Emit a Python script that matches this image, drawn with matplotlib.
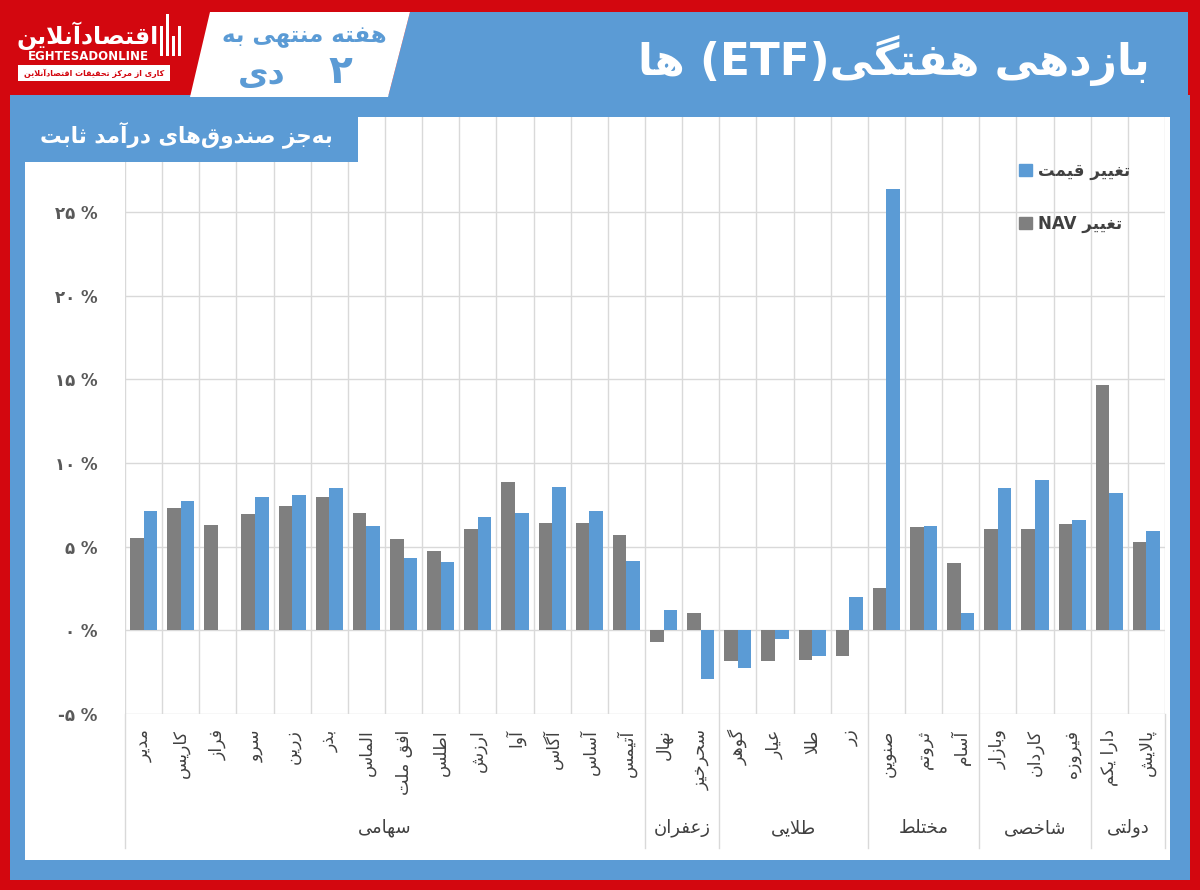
import re

import matplotlib

matplotlib.use("Agg")
import matplotlib.pyplot as plt
import matplotlib.transforms as mtransforms
import numpy as np
from matplotlib.patches import Patch, Polygon, Rectangle

plt.rcParams["font.family"] = ["DejaVu Sans"]

# ---------------------------------------------------------------------------
# Data
# ---------------------------------------------------------------------------

groups = ["سهامی", "زعفران", "طلایی", "مختلط", "شاخصی", "دولتی"]
group_sizes = [14, 2, 4, 3, 3, 2]
funds = [
    "مدیر", "کاریس", "فراز", "سرو", "زرین", "بذر", "الماس", "افق ملت", "اطلس",
    "ارزش", "آوا", "آگاس", "آساس", "آتیمس",
    "نهال", "سحرخیز",
    "گوهر", "عیار", "طلا", "زر",
    "صنوین", "ثروتم", "آسام",
    "وبازار", "کاردان", "فیروزه",
    "دارا یکم", "پالایش",
]
nav_change = [
    5.5, 7.3, 6.3, 6.96, 7.44, 7.96, 7.04, 5.44, 4.76, 6.04, 8.84, 6.44, 6.44, 5.7,
    -0.72, 1.06,
    -1.86, -1.86, -1.8, -1.52,
    2.54, 6.16, 4.0,
    6.04, 6.04, 6.36,
    14.68, 5.3,
]
price_change = [
    7.16, 7.7, np.nan, 7.96, 8.1, 8.5, 6.22, 4.3, 4.06, 6.76, 7.04, 8.58, 7.16, 4.14,
    1.2, -2.92,
    -2.26, -0.54, -1.52, 2.02,
    26.4, 6.24, 1.06,
    8.5, 8.98, 6.58,
    8.18, 5.96,
]
ytick_values = [-5, 0, 5, 10, 15, 20, 25]
ytick_labels = ["-۵ %", "۰ %", "۵ %", "۱۰ %", "۱۵ %", "۲۰ %", "۲۵ %"]

title = "بازدهی هفتگی(ETF) ها"
subtitle = "به‌جز صندوق‌های درآمد ثابت"
week_label = "هفته منتهی به"
week_day = "۲"
week_month = "دی"
legend_labels = ["تغییر قیمت", "تغییر NAV"]
logo_name = "اقتصادآنلاین"
logo_latin = "EGHTESADONLINE"
logo_tag = "کاری از مرکز تحقیقات اقتصادآنلاین"

# ---------------------------------------------------------------------------
# Persian shaping (matplotlib has no bidi / joining support)
# ---------------------------------------------------------------------------

ZWNJ = "\u200c"
FORMS = {
    "ا": "\ufe8d\ufe8e", "آ": "\ufe81\ufe82", "د": "\ufea9\ufeaa", "ذ": "\ufeab\ufeac",
    "ر": "\ufead\ufeae", "ز": "\ufeaf\ufeb0", "ژ": "\ufb8a\ufb8b", "و": "\ufeed\ufeee",
    "ب": "\ufe8f\ufe90\ufe91\ufe92", "پ": "\ufb56\ufb57\ufb58\ufb59",
    "ت": "\ufe95\ufe96\ufe97\ufe98", "ث": "\ufe99\ufe9a\ufe9b\ufe9c",
    "ج": "\ufe9d\ufe9e\ufe9f\ufea0", "چ": "\ufb7a\ufb7b\ufb7c\ufb7d",
    "ح": "\ufea1\ufea2\ufea3\ufea4", "خ": "\ufea5\ufea6\ufea7\ufea8",
    "س": "\ufeb1\ufeb2\ufeb3\ufeb4", "ش": "\ufeb5\ufeb6\ufeb7\ufeb8",
    "ص": "\ufeb9\ufeba\ufebb\ufebc", "ض": "\ufebd\ufebe\ufebf\ufec0",
    "ط": "\ufec1\ufec2\ufec3\ufec4", "ظ": "\ufec5\ufec6\ufec7\ufec8",
    "ع": "\ufec9\ufeca\ufecb\ufecc", "غ": "\ufecd\ufece\ufecf\ufed0",
    "ف": "\ufed1\ufed2\ufed3\ufed4", "ق": "\ufed5\ufed6\ufed7\ufed8",
    "ک": "\ufb8e\ufb8f\ufb90\ufb91", "گ": "\ufb92\ufb93\ufb94\ufb95",
    "ل": "\ufedd\ufede\ufedf\ufee0", "م": "\ufee1\ufee2\ufee3\ufee4",
    "ن": "\ufee5\ufee6\ufee7\ufee8", "ه": "\ufee9\ufeea\ufeeb\ufeec",
    "ی": "\ufbfc\ufbfd\ufbfe\ufbff",
}


def _dual(c):
    return c in FORMS and len(FORMS[c]) == 4


def shape(text):
    out, i, n = [], 0, len(text)
    while i < n:
        c = text[i]
        if c not in FORMS:
            if c != ZWNJ:
                out.append(c)
            i += 1
            continue
        link_prev = i > 0 and _dual(text[i - 1])
        if c == "ل" and i + 1 < n and text[i + 1] in "اآ":
            lig = "\ufefb\ufefc" if text[i + 1] == "ا" else "\ufef5\ufef6"
            out.append(lig[1] if link_prev else lig[0])
            i += 2
            continue
        link_next = _dual(c) and i + 1 < n and text[i + 1] in FORMS
        f = FORMS[c]
        if link_prev and link_next:
            out.append(f[3])
        elif link_prev:
            out.append(f[1])
        elif link_next:
            out.append(f[2])
        else:
            out.append(f[0])
        i += 1
    return "".join(out)


def rtl(text):
    runs = re.findall(r"[A-Za-z0-9()]+|[^A-Za-z0-9()]+", text)
    vis = []
    for run in reversed(runs):
        if re.fullmatch(r"[A-Za-z0-9()]+", run):
            vis.append(run)
        else:
            vis.append(shape(run)[::-1])
    return "".join(vis)


# ---------------------------------------------------------------------------
# Layout (pixels, y from top)
# ---------------------------------------------------------------------------

W, H = 1200, 890
RED = "#d3070f"
BLUE = "#5b9bd5"
GRAY = "#7f7f7f"
TEXT = "#404040"
PLOT_L, PLOT_R, PLOT_T, PLOT_B = 125, 1165, 117, 714

fig = plt.figure(figsize=(W / 100, H / 100), dpi=100)
fig.patch.set_facecolor(RED)

bg = fig.add_axes([0, 0, 1, 1], zorder=0)
bg.set_xlim(0, W)
bg.set_ylim(H, 0)
bg.axis("off")

bg.add_patch(Rectangle((10, 95), 1180, 785, color=BLUE, lw=0))
bg.add_patch(Polygon([(410, 12), (1188, 12), (1188, 97), (388, 97)], color=BLUE, lw=0))
bg.add_patch(Polygon([(210, 12), (410, 12), (388, 97), (190, 97)], color="white", lw=0))
bg.add_patch(Rectangle((25, 117), 1145, 743, color="white", lw=0))

# header texts
bg.text(1150, 60, rtl(title), color="white", fontsize=31.5, fontweight="bold",
        ha="right", va="center")
bg.text(304, 36, rtl(week_label), color=BLUE, fontsize=16.5, fontweight="bold",
        ha="center", va="center")
bg.text(340, 72, week_day, color=BLUE, fontsize=28, fontweight="bold",
        ha="center", va="center")
bg.text(262, 74, rtl(week_month), color=BLUE, fontsize=24, fontweight="bold",
        ha="center", va="center")

# logo
for k, h in enumerate([30, 42, 20, 30]):
    bg.add_patch(Rectangle((160 + k * 6, 56 - h), 3, h, color="white", lw=0))
bg.text(88, 36, rtl(logo_name), color="white", fontsize=17, fontweight="bold",
        ha="center", va="center")
bg.text(88, 57, logo_latin, color="white", fontsize=8.5, fontweight="bold",
        ha="center", va="center")
bg.add_patch(Rectangle((18, 65), 152, 16, color="white", lw=0))
bg.text(94, 73, rtl(logo_tag), color=RED, fontsize=5.8, fontweight="bold",
        ha="center", va="center")

# ---------------------------------------------------------------------------
# Chart
# ---------------------------------------------------------------------------

ax = fig.add_axes([PLOT_L / W, 1 - PLOT_B / H, (PLOT_R - PLOT_L) / W, (PLOT_B - PLOT_T) / H],
                  zorder=1)
ax.set_facecolor("none")

x = np.arange(len(funds))
bw = 0.365
ax.bar(x - bw / 2, nav_change, bw, color=GRAY, zorder=3, label=rtl(legend_labels[1]))
ax.bar(x + bw / 2, price_change, bw, color=BLUE, zorder=3, label=rtl(legend_labels[0]))

px_per_pct = (PLOT_B - 212) / 30.0
ax.set_xlim(-0.5, len(funds) - 0.5)
ax.set_ylim(-5, -5 + (PLOT_B - PLOT_T) / px_per_pct)

ax.set_yticks(ytick_values)
ax.set_yticklabels(ytick_labels, fontsize=12, fontweight="bold", color="#595959")
ax.set_xticks(x)
ax.set_xticklabels([rtl(f) for f in funds], rotation=90, ha="right", va="center",
                   rotation_mode="anchor", fontsize=12.5, color=TEXT)
ax.set_xticks(np.arange(-0.5, len(funds)), minor=True)
ax.tick_params(axis="both", which="both", length=0)
ax.tick_params(axis="x", pad=11)
ax.tick_params(axis="y", pad=20)
ax.grid(axis="y", which="major", color="#d9d9d9", lw=1, zorder=0)
ax.grid(axis="x", which="minor", color="#d9d9d9", lw=1, zorder=0)
for s in ax.spines.values():
    s.set_visible(False)

# group labels and separators under the category labels
trans = mtransforms.blended_transform_factory(ax.transData, ax.transAxes)
plot_h = PLOT_B - PLOT_T
sep_bottom = -(848 - PLOT_B) / plot_h
label_y = -(828 - PLOT_B) / plot_h
edges = np.concatenate([[0], np.cumsum(group_sizes)]) - 0.5
for e in edges:
    ax.plot([e, e], [0, sep_bottom], transform=trans, color="#d9d9d9", lw=1, clip_on=False)
for g, a, b in zip(groups, edges[:-1], edges[1:]):
    ax.text((a + b) / 2, label_y, rtl(g), transform=trans, ha="center", va="center",
            fontsize=13, color=TEXT)

handles = [Patch(color=BLUE), Patch(color=GRAY)]
ax.legend(handles, [rtl(t) for t in legend_labels], loc="upper left",
          bbox_to_anchor=(1004 / W, 1 - 147 / H), bbox_transform=fig.transFigure,
          frameon=False, labelspacing=2.1, handlelength=0.75, handleheight=0.75,
          handletextpad=0.4, prop={"weight": "bold", "size": 12}, labelcolor=TEXT)

# blue tab on top of the grid
ov = fig.add_axes([0, 0, 1, 1], zorder=2)
ov.set_xlim(0, W)
ov.set_ylim(H, 0)
ov.axis("off")
ov.add_patch(Rectangle((25, 110), 333, 52, color=BLUE, lw=0))
ov.text(186, 135, rtl(subtitle), color="white", fontsize=15.5, fontweight="bold",
        ha="center", va="center")

fig.savefig("out.png", dpi=100, facecolor=fig.get_facecolor())
